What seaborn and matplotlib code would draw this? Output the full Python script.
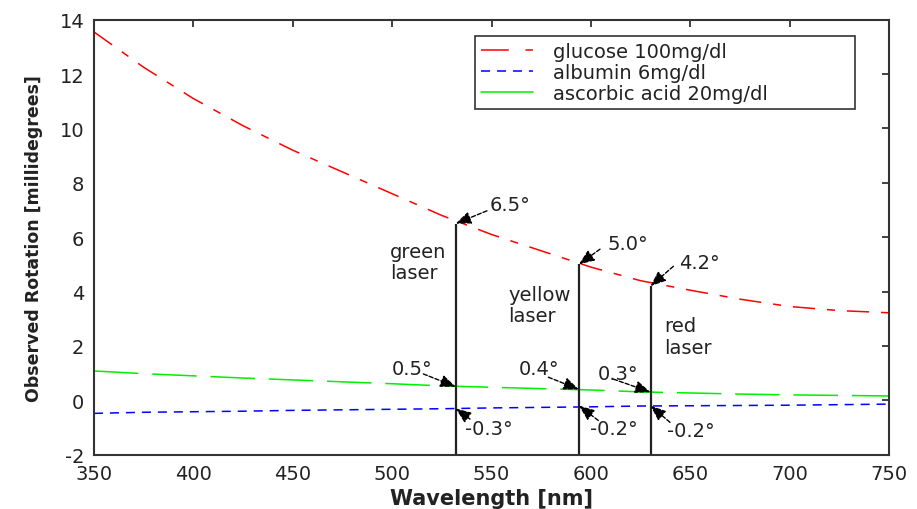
import matplotlib
matplotlib.use("Agg")
import matplotlib.pyplot as plt
from matplotlib.lines import Line2D
import seaborn as sns
import pandas as pd

# Wavelength grid (nm) and observed rotation (millidegrees) for each analyte
wavelength = [350, 375, 400, 425, 450, 475, 500, 525, 550, 575, 600, 625, 650, 675, 700, 725, 750]
glucose = [13.55, 12.25, 11.1, 10.1, 9.2, 8.4, 7.6, 6.8, 6.1, 5.5, 4.9, 4.4, 4.05, 3.72, 3.45, 3.3, 3.22]
albumin = [-0.48, -0.44, -0.42, -0.40, -0.37, -0.35, -0.33, -0.31, -0.28, -0.26, -0.24, -0.21, -0.20, -0.19, -0.18, -0.16, -0.14]
ascorbic = [1.08, 0.98, 0.90, 0.82, 0.75, 0.68, 0.61, 0.53, 0.48, 0.43, 0.38, 0.31, 0.27, 0.23, 0.20, 0.18, 0.16]
series_names = ["glucose 100mg/dl", "albumin 6mg/dl", "ascorbic acid 20mg/dl"]

# Laser wavelengths and the rotation values read at each of them
laser_nm = [532, 594, 630]
laser_names = ["green\nlaser", "yellow\nlaser", "red\nlaser"]
glucose_at_laser = [6.5, 5.0, 4.2]
ascorbic_at_laser = [0.5, 0.4, 0.3]
albumin_at_laser = [-0.3, -0.2, -0.2]

x_ticks = [350, 400, 450, 500, 550, 600, 650, 700, 750]
y_ticks = [-2, 0, 2, 4, 6, 8, 10, 12, 14]

sns.set_style("white")
plt.rcParams["font.family"] = ["DejaVu Sans"]
plt.rcParams["lines.scale_dashes"] = False
plt.rcParams["axes.unicode_minus"] = False

ink = "#222222"
fig = plt.figure(figsize=(9.17, 5.10), dpi=100)
ax = fig.add_axes([0.1025, 0.1065, 0.867, 0.8529])

df = pd.DataFrame({"wavelength": wavelength, "glucose": glucose,
                   "albumin": albumin, "ascorbic": ascorbic})

colors = ["#ff0000", "#0000ff", "#00ee00"]
dash_styles = [(16, 8.6, 5.8, 8.6), (6.5, 5.0), (32, 10)]
for col, c, d in zip(["glucose", "albumin", "ascorbic"], colors, dash_styles):
    sns.lineplot(data=df, x="wavelength", y=col, color=c, linewidth=1.1, ax=ax)
    ax.lines[-1].set_dashes(d)

# Vertical markers at the laser wavelengths
for nm, top in zip(laser_nm, glucose_at_laser):
    ax.plot([nm, nm], [-2, top], color=ink, linewidth=1.6, solid_capstyle="butt")

arrow_kw = dict(arrowstyle="-|>,head_length=0.55,head_width=0.22", color="black",
                linestyle=(0, (3, 1.5)), linewidth=1.0, mutation_scale=17,
                shrinkA=0, shrinkB=0)
txt_kw = dict(fontsize=14, color=ink, va="center", ha="left")

def value_label(text, head, tail, pos):
    ax.annotate("", xy=head, xytext=tail, arrowprops=arrow_kw)
    ax.text(pos[0], pos[1], text, **txt_kw)

# glucose values at the top of each marker
g_tail = [(547.7, 6.97), (604.6, 5.56), (641.5, 4.93)]
g_pos = [(548.8, 7.22), (608.4, 5.75), (644.4, 5.08)]
for nm, v, t, p in zip(laser_nm, glucose_at_laser, g_tail, g_pos):
    value_label(f"{v:.1f}°", (nm, v), t, p)

# ascorbic acid values
a_tail = [(515.7, 0.97), (578.6, 0.85), (611.3, 0.78)]
a_pos = [(499.8, 1.18), (563.5, 1.18), (603.2, 0.97)]
for nm, v, t, p in zip(laser_nm, ascorbic_at_laser, a_tail, a_pos):
    value_label(f"{v:.1f}°", (nm, v), t, p)

# albumin values
b_tail = [(539.2, -0.69), (603.7, -0.74), (639.8, -0.81)]
b_pos = [(536.7, -1.03), (599.6, -1.03), (638.4, -1.12)]
for nm, v, t, p in zip(laser_nm, albumin_at_laser, b_tail, b_pos):
    value_label(f"{v:.1f}°", (nm, v), t, p)

# laser names
name_pos = [(498.9, 5.1), (558.5, 3.5), (636.8, 2.35)]
for name, p in zip(laser_names, name_pos):
    ax.text(p[0], p[1], name, linespacing=1.15, **txt_kw)

ax.set_xlim(350, 750)
ax.set_ylim(-2, 14)
ax.set_xticks(x_ticks)
ax.set_yticks(y_ticks)
ax.tick_params(direction="in", length=5, width=1.2, top=True, right=True,
               labelsize=14, colors=ink, pad=7)
for s in ax.spines.values():
    s.set_color("#333333")
    s.set_linewidth(1.5)

ax.set_xlabel("Wavelength [nm]", fontsize=15, fontweight="bold", color=ink, labelpad=3)
ax.set_ylabel("Observed Rotation [millidegrees]", fontsize=12.5, fontweight="bold",
              color=ink, labelpad=12)

handles = [
    Line2D([], [], color=colors[0], linewidth=1.1, dashes=(20, 12, 6, 8)),
    Line2D([], [], color=colors[1], linewidth=1.1, dashes=(6.5, 5.0)),
    Line2D([], [], color=colors[2], linewidth=1.1),
]
leg = ax.legend(handles, series_names, loc="upper left", mode="expand",
                bbox_to_anchor=(0.4792, 0.963, 0.4780, 0.0), borderaxespad=0,
                fancybox=False, framealpha=1, edgecolor="#333333",
                fontsize=14, handlelength=2.7, handletextpad=1.0, labelspacing=0.12,
                borderpad=0.3)
leg.get_frame().set_linewidth(1.2)
for t in leg.get_texts():
    t.set_color(ink)

fig.savefig("out.png", dpi=100)
